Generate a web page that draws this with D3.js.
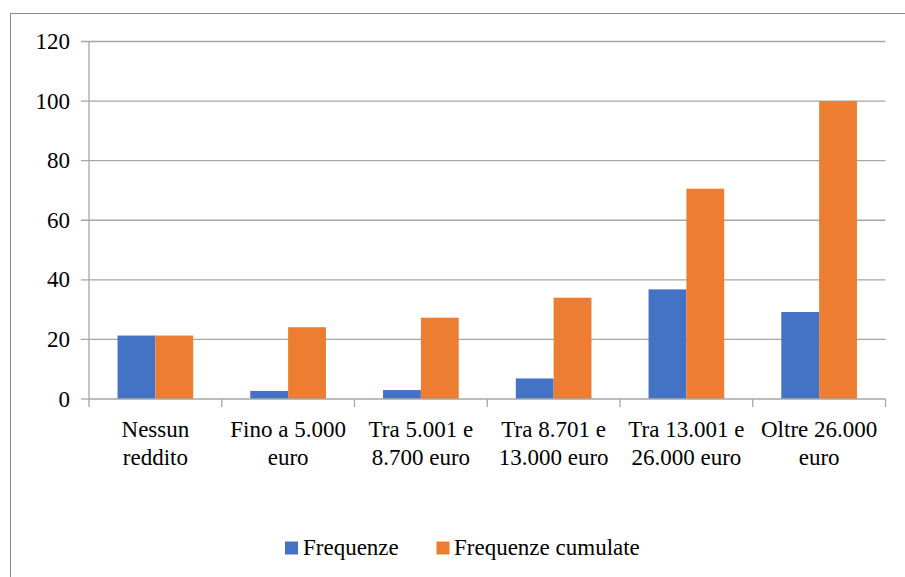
<!DOCTYPE html>
<html>
<head>
<meta charset="utf-8">
<script src="https://cdn.jsdelivr.net/npm/d3@7"></script>
<style>
  html, body { margin: 0; padding: 0; background: #fff; }
  svg { display: block; }
</style>
</head>
<body>
<svg id="chart" width="905" height="577"></svg>
<script>
const categories = [
  ["Nessun", "reddito"],
  ["Fino a 5.000", "euro"],
  ["Tra 5.001 e", "8.700 euro"],
  ["Tra 8.701 e", "13.000 euro"],
  ["Tra 13.001 e", "26.000 euro"],
  ["Oltre 26.000", "euro"]
];
const frequenze = [21.3, 2.7, 3.0, 6.9, 36.8, 29.2];
const cumulate = [21.3, 24.1, 27.3, 34.0, 70.6, 100];
const yTicks = [0, 20, 40, 60, 80, 100, 120];
const seriesNames = ["Frequenze", "Frequenze cumulate"];
const colors = ["#4472C4", "#ED7D31"];

const FONT = "Liberation Serif, DejaVu Serif, serif";
const svg = d3.select("#chart");
const plot = { left: 89, right: 885.5, top: 41.5, bottom: 399 };

// outer frame
svg.append("rect")
  .attr("x", 10.5).attr("y", 13.5)
  .attr("width", 1000).attr("height", 1000)
  .attr("fill", "none").attr("stroke", "#8c8c8c").attr("stroke-width", 1);

const x = d3.scaleBand()
  .domain(d3.range(categories.length))
  .range([plot.left, plot.right])
  .padding(0);
const y = d3.scaleLinear().domain([0, 120]).range([plot.bottom, plot.top]);

const groupFrac = 0.57;
const x1 = d3.scaleBand()
  .domain([0, 1])
  .range([0, x.bandwidth() * groupFrac])
  .padding(0);
const groupOffset = (x.bandwidth() - x.bandwidth() * groupFrac) / 2;

// gridlines
svg.append("g").selectAll("line").data(yTicks.filter(d => d > 0)).join("line")
  .attr("x1", plot.left - 8).attr("x2", plot.right)
  .attr("y1", d => y(d)).attr("y2", d => y(d))
  .attr("stroke", "#a6a6a6").attr("stroke-width", 1.3);

// y tick labels
svg.append("g").selectAll("text").data(yTicks).join("text")
  .attr("x", 70).attr("y", d => y(d))
  .attr("dy", "0.33em")
  .attr("text-anchor", "end")
  .style("font-family", FONT)
  .style("font-size", "23px")
  .attr("fill", "#000")
  .text(d => d);

// bars
const series = [frequenze, cumulate];
const g = svg.append("g");
series.forEach((vals, si) => {
  g.selectAll(".s" + si).data(vals).join("rect")
    .attr("class", "s" + si)
    .attr("x", (d, i) => x(i) + groupOffset + x1(si))
    .attr("width", x1.bandwidth())
    .attr("y", d => y(d))
    .attr("height", d => y(0) - y(d))
    .attr("fill", colors[si]);
});

// y axis line
svg.append("line")
  .attr("x1", plot.left).attr("x2", plot.left)
  .attr("y1", plot.top).attr("y2", plot.bottom)
  .attr("stroke", "#a6a6a6").attr("stroke-width", 1.3);
svg.append("line")
  .attr("x1", plot.left - 8).attr("x2", plot.left)
  .attr("y1", y(0)).attr("y2", y(0))
  .attr("stroke", "#a6a6a6").attr("stroke-width", 1.3);
// x axis line
svg.append("line")
  .attr("x1", plot.left).attr("x2", plot.right)
  .attr("y1", y(0)).attr("y2", y(0))
  .attr("stroke", "#a6a6a6").attr("stroke-width", 1.3);
// category boundary ticks
const bounds = d3.range(categories.length + 1).map(i => i < categories.length ? x(i) : x(categories.length - 1) + x.bandwidth());
svg.append("g").selectAll("line").data(bounds).join("line")
  .attr("x1", d => d).attr("x2", d => d)
  .attr("y1", y(0)).attr("y2", y(0) + 8)
  .attr("stroke", "#a6a6a6").attr("stroke-width", 1.3);

// category labels
const cl = svg.append("g").selectAll("text").data(categories).join("text")
  .attr("text-anchor", "middle")
  .style("font-family", FONT)
  .style("font-size", "23px")
  .attr("fill", "#000")
  .attr("transform", (d, i) => `translate(${x(i) + x.bandwidth() / 2},0)`);
cl.selectAll("tspan").data(d => d).join("tspan")
  .attr("x", 0)
  .attr("y", (d, j) => 437 + j * 28)
  .text(d => d);

// legend
const legend = [
  { name: seriesNames[0], color: colors[0], sx: 285, tx: 303 },
  { name: seriesNames[1], color: colors[1], sx: 436.5, tx: 454 }
];
const lg = svg.append("g");
lg.selectAll("rect").data(legend).join("rect")
  .attr("x", d => d.sx).attr("y", 541.5)
  .attr("width", 13).attr("height", 13)
  .attr("fill", d => d.color);
lg.selectAll("text").data(legend).join("text")
  .attr("x", d => d.tx).attr("y", 555)
  .style("font-family", FONT)
  .style("font-size", "23px")
  .attr("fill", "#000")
  .text(d => d.name);
</script>
</body>
</html>
